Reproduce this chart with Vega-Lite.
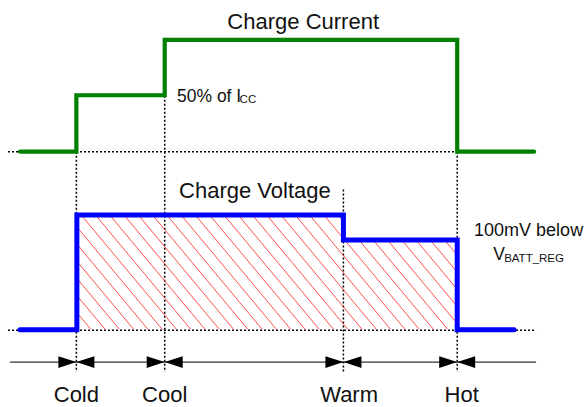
{
  "$schema": "https://vega.github.io/schema/vega-lite/v6.json",
  "width": 584,
  "height": 407,
  "autosize": {"type": "fit", "contains": "padding"},
  "padding": 0,
  "background": "white",
  "config": {"view": {"stroke": null}},
  "datasets": {
    "current": [
      {"t": 20, "v": 152, "order": 1},
      {"t": 76.5, "v": 152, "order": 2},
      {"t": 76.5, "v": 95.5, "order": 3},
      {"t": 165, "v": 95.5, "order": 4},
      {"t": 165, "v": 40, "order": 5},
      {"t": 458, "v": 40, "order": 6},
      {"t": 458, "v": 152, "order": 7},
      {"t": 535, "v": 152, "order": 8}
    ],
    "voltage": [
      {"t": 20, "v": 330.5, "order": 1},
      {"t": 77, "v": 330.5, "order": 2},
      {"t": 77, "v": 215.5, "order": 3},
      {"t": 344, "v": 215.5, "order": 4},
      {"t": 344, "v": 240.5, "order": 5},
      {"t": 458, "v": 240.5, "order": 6},
      {"t": 458, "v": 330.5, "order": 7},
      {"t": 515, "v": 330.5, "order": 8}
    ],
    "dotted": [
      {"t": 8, "v": 152, "t2": 537, "v2": 152},
      {"t": 8, "v": 331, "t2": 537, "v2": 331},
      {"t": 76.5, "v": 152, "t2": 76.5, "v2": 373},
      {"t": 165, "v": 96, "t2": 165, "v2": 373},
      {"t": 344, "v": 190, "t2": 344, "v2": 373},
      {"t": 458, "v": 152, "t2": 458, "v2": 373}
    ],
    "hatch": [
      {"t": 77, "v": 313.3, "t2": 90.9, "v2": 330},
      {"t": 77, "v": 296.2, "t2": 105.2, "v2": 330},
      {"t": 77, "v": 279.0, "t2": 119.5, "v2": 330},
      {"t": 77, "v": 261.8, "t2": 133.8, "v2": 330},
      {"t": 77, "v": 244.7, "t2": 148.1, "v2": 330},
      {"t": 77, "v": 227.5, "t2": 162.4, "v2": 330},
      {"t": 81.7, "v": 216, "t2": 176.7, "v2": 330},
      {"t": 96.0, "v": 216, "t2": 191.0, "v2": 330},
      {"t": 110.3, "v": 216, "t2": 205.3, "v2": 330},
      {"t": 124.6, "v": 216, "t2": 219.6, "v2": 330},
      {"t": 138.9, "v": 216, "t2": 233.9, "v2": 330},
      {"t": 153.2, "v": 216, "t2": 248.2, "v2": 330},
      {"t": 167.5, "v": 216, "t2": 262.5, "v2": 330},
      {"t": 181.8, "v": 216, "t2": 276.8, "v2": 330},
      {"t": 196.1, "v": 216, "t2": 291.1, "v2": 330},
      {"t": 210.4, "v": 216, "t2": 305.4, "v2": 330},
      {"t": 224.7, "v": 216, "t2": 319.7, "v2": 330},
      {"t": 239.0, "v": 216, "t2": 334.0, "v2": 330},
      {"t": 253.3, "v": 216, "t2": 348.3, "v2": 330},
      {"t": 267.6, "v": 216, "t2": 362.6, "v2": 330},
      {"t": 281.9, "v": 216, "t2": 376.9, "v2": 330},
      {"t": 296.2, "v": 216, "t2": 391.2, "v2": 330},
      {"t": 310.5, "v": 216, "t2": 405.5, "v2": 330},
      {"t": 324.8, "v": 216, "t2": 419.8, "v2": 330},
      {"t": 339.1, "v": 216, "t2": 344, "v2": 222},
      {"t": 359.9, "v": 241, "t2": 434.1, "v2": 330},
      {"t": 374.2, "v": 241, "t2": 448.4, "v2": 330},
      {"t": 388.5, "v": 241, "t2": 458, "v2": 324.4},
      {"t": 402.8, "v": 241, "t2": 458, "v2": 307.2},
      {"t": 417.1, "v": 241, "t2": 458, "v2": 290.0},
      {"t": 431.4, "v": 241, "t2": 458, "v2": 272.9},
      {"t": 445.7, "v": 241, "t2": 458, "v2": 255.7}
    ],
    "axisline": [
      {"t": 10, "v": 363, "t2": 537, "v2": 363}
    ],
    "arrows": [
      {"t": 76.5, "v": 363, "dir": "right"},
      {"t": 76.5, "v": 363, "dir": "left"},
      {"t": 165, "v": 363, "dir": "right"},
      {"t": 165, "v": 363, "dir": "left"},
      {"t": 344, "v": 363, "dir": "right"},
      {"t": 344, "v": 363, "dir": "left"},
      {"t": 458, "v": 363, "dir": "right"},
      {"t": 458, "v": 363, "dir": "left"}
    ],
    "bigLabels": [
      {"t": 303.7, "v": 29.3, "label": "Charge Current"},
      {"t": 255.3, "v": 198.3, "label": "Charge Voltage"},
      {"t": 76.5, "v": 403.3, "label": "Cold"},
      {"t": 165, "v": 403.3, "label": "Cool"},
      {"t": 349.7, "v": 403.3, "label": "Warm"},
      {"t": 462.5, "v": 403.3, "label": "Hot"}
    ],
    "midLabels": [
      {"t": 177.3, "v": 102.7, "label": "50% of I"},
      {"t": 494, "v": 260.7, "label": "V"}
    ],
    "centerMidLabels": [
      {"t": 529.5, "v": 236.7, "label": "100mV below"}
    ],
    "subLabels": [
      {"t": 240, "v": 103.5, "label": "CC"},
      {"t": 505, "v": 262.7, "label": "BATT_REG"}
    ]
  },
  "encoding": {
    "x": {"field": "t", "type": "quantitative", "scale": {"domain": [0, 584], "nice": false, "zero": false}, "axis": null},
    "y": {"field": "v", "type": "quantitative", "scale": {"domain": [0, 407], "reverse": true, "nice": false, "zero": false}, "axis": null}
  },
  "layer": [
    {
      "data": {"name": "dotted"},
      "mark": {"type": "rule", "color": "#000000", "strokeWidth": 1.5, "strokeDash": [2, 2]},
      "encoding": {"x2": {"field": "t2"}, "y2": {"field": "v2"}}
    },
    {
      "data": {"name": "hatch"},
      "mark": {"type": "rule", "color": "#ff3030", "strokeWidth": 1, "opacity": 0.85},
      "encoding": {"x2": {"field": "t2"}, "y2": {"field": "v2"}}
    },
    {
      "data": {"name": "current"},
      "mark": {"type": "line", "color": "#008000", "strokeWidth": 4.2, "strokeJoin": "miter", "strokeCap": "round"},
      "encoding": {"order": {"field": "order", "type": "quantitative"}}
    },
    {
      "data": {"name": "voltage"},
      "mark": {"type": "line", "color": "#0000ff", "strokeWidth": 5, "strokeJoin": "miter", "strokeCap": "round"},
      "encoding": {"order": {"field": "order", "type": "quantitative"}}
    },
    {
      "data": {"name": "axisline"},
      "mark": {"type": "rule", "color": "#000000", "strokeWidth": 1},
      "encoding": {"x2": {"field": "t2"}, "y2": {"field": "v2"}}
    },
    {
      "data": {"name": "arrows"},
      "mark": {"type": "point", "filled": true, "color": "#000000", "size": 324, "opacity": 1, "strokeWidth": 0},
      "encoding": {
        "shape": {"field": "dir", "type": "nominal", "scale": {"domain": ["right", "left"], "range": ["M0,0L-2,-0.66L-2,0.66Z", "M0,0L2,-0.66L2,0.66Z"]}, "legend": null}
      }
    },
    {
      "data": {"name": "bigLabels"},
      "mark": {"type": "text", "font": "Liberation Sans", "fontSize": 22, "align": "center", "baseline": "alphabetic", "color": "#111111"},
      "encoding": {"text": {"field": "label"}}
    },
    {
      "data": {"name": "midLabels"},
      "mark": {"type": "text", "font": "Liberation Sans", "fontSize": 17.5, "align": "left", "baseline": "alphabetic", "color": "#111111"},
      "encoding": {"text": {"field": "label"}}
    },
    {
      "data": {"name": "centerMidLabels"},
      "mark": {"type": "text", "font": "Liberation Sans", "fontSize": 18, "align": "center", "baseline": "alphabetic", "color": "#111111"},
      "encoding": {"text": {"field": "label"}}
    },
    {
      "data": {"name": "subLabels"},
      "mark": {"type": "text", "font": "Liberation Sans", "fontSize": 11.5, "align": "left", "baseline": "alphabetic", "color": "#111111"},
      "encoding": {"text": {"field": "label"}}
    }
  ]
}
